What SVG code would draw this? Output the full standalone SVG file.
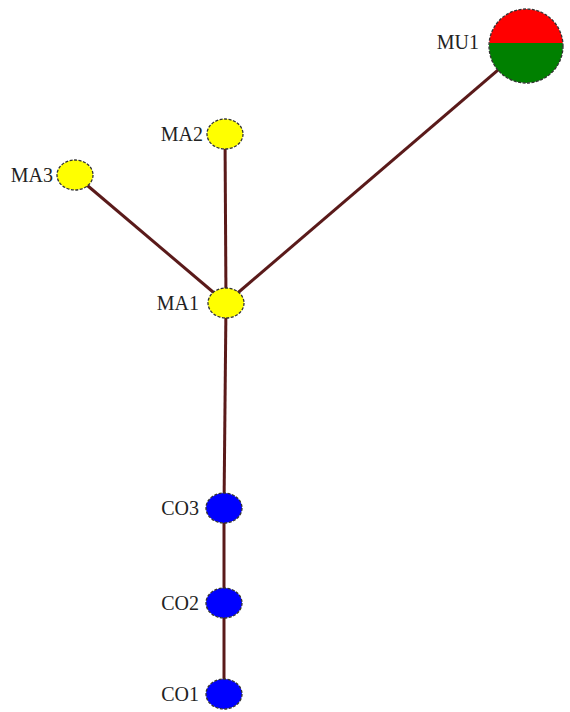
<svg xmlns="http://www.w3.org/2000/svg" width="570" height="712" viewBox="0 0 570 712">
<style>
.e{stroke:#5a1a1a;stroke-width:3;fill:none}
.n{stroke:#333;stroke-width:1.3;stroke-dasharray:3,1.5}
.y{fill:#ffff00}
.b{fill:#0000ff}
text{font-family:"Liberation Serif","Times New Roman",serif;font-size:20px;fill:#222;text-anchor:end}
</style>
<defs>
<clipPath id="mc"><circle cx="526" cy="46" r="37"/></clipPath>
</defs>
<rect width="570" height="712" fill="#fff"/>
<g id="edges">
<line class="e" x1="226" y1="303" x2="225" y2="134"/>
<line class="e" x1="226" y1="303" x2="75" y2="175"/>
<line class="e" x1="226" y1="303" x2="526" y2="46"/>
<line class="e" x1="226" y1="303" x2="224" y2="508"/>
<line class="e" x1="224" y1="508" x2="224" y2="603"/>
<line class="e" x1="224" y1="603" x2="224" y2="694"/>
</g>
<g id="MU1">
<g clip-path="url(#mc)">
<rect x="489" y="9" width="74" height="34" fill="#ff0000"/>
<rect x="489" y="43" width="74" height="40" fill="#008000"/>
</g>
<circle class="n" cx="526" cy="46" r="37" fill="none"/>
<text x="479" y="49">MU1</text>
</g>
<g id="MA2">
<ellipse class="n y" cx="225" cy="134" rx="18" ry="15"/>
<text x="203" y="141">MA2</text>
</g>
<g id="MA3">
<ellipse class="n y" cx="75" cy="175" rx="18" ry="15"/>
<text x="53" y="182">MA3</text>
</g>
<g id="MA1">
<ellipse class="n y" cx="226" cy="303" rx="18" ry="15"/>
<text x="199" y="310">MA1</text>
</g>
<g id="CO3">
<ellipse class="n b" cx="224" cy="508" rx="18" ry="15"/>
<text x="199" y="515">CO3</text>
</g>
<g id="CO2">
<ellipse class="n b" cx="224" cy="603" rx="18" ry="15"/>
<text x="199" y="610">CO2</text>
</g>
<g id="CO1">
<ellipse class="n b" cx="224" cy="694" rx="18" ry="15"/>
<text x="199" y="701">CO1</text>
</g>
</svg>
